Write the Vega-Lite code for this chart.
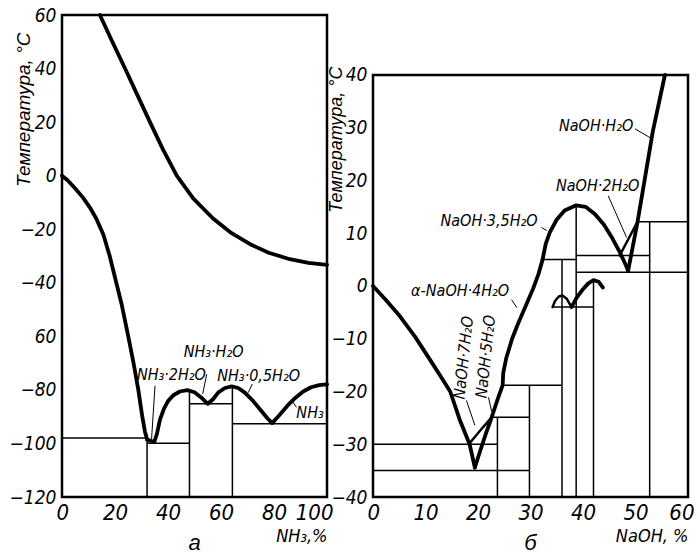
{
  "$schema": "https://vega.github.io/schema/vega-lite/v6.json",
  "background": "white",
  "padding": {"left": 7, "top": 4, "right": 0, "bottom": 0},
  "bounds": "flush",
  "spacing": 46,
  "config": {
    "view": {"stroke": "black", "strokeWidth": 2.5},
    "axis": {
      "grid": false, "domain": false, "ticks": false,
      "labelFont": "DejaVu Sans Condensed", "labelFontStyle": "italic", "labelColor": "black",
      "titleColor": "black", "titleFontWeight": "normal", "titleFontStyle": "italic", "titleFont": "DejaVu Sans Condensed"
    },
    "axisX": {"labelFontSize": 22, "labelPadding": 5, "labelFlush": true, "labelFlushOffset": 6, "titleFontSize": 18, "titleAnchor": "end", "titlePadding": 4},
    "axisY": {"labelFontSize": 19, "labelPadding": 6, "titleFont": "Liberation Sans", "titleAnchor": "end"}
  },
  "datasets": {
    "lCurve": [
      {"s": "u", "x": 14.3, "y": 60}, {"s": "u", "x": 19, "y": 50}, {"s": "u", "x": 23.8, "y": 40}, {"s": "u", "x": 28.5, "y": 30}, {"s": "u", "x": 33.2, "y": 20}, {"s": "u", "x": 38, "y": 10}, {"s": "u", "x": 43.3, "y": 0}, {"s": "u", "x": 49.5, "y": -8.5}, {"s": "u", "x": 57, "y": -16}, {"s": "u", "x": 64, "y": -21.5}, {"s": "u", "x": 71, "y": -25.6}, {"s": "u", "x": 78, "y": -28.8}, {"s": "u", "x": 86, "y": -31.2}, {"s": "u", "x": 93, "y": -32.6}, {"s": "u", "x": 100, "y": -33.3},
      {"s": "i", "x": 0, "y": 0}, {"s": "i", "x": 2, "y": -1.6}, {"s": "i", "x": 5, "y": -4.8}, {"s": "i", "x": 8, "y": -8.3}, {"s": "i", "x": 10.6, "y": -12}, {"s": "i", "x": 13, "y": -16.2}, {"s": "i", "x": 15.6, "y": -22}, {"s": "i", "x": 18, "y": -30}, {"s": "i", "x": 20, "y": -38}, {"s": "i", "x": 22.5, "y": -48}, {"s": "i", "x": 25, "y": -60}, {"s": "i", "x": 27, "y": -70}, {"s": "i", "x": 28.8, "y": -80}, {"s": "i", "x": 30.3, "y": -90}, {"s": "i", "x": 31.3, "y": -95.5}, {"s": "i", "x": 32.1, "y": -98.5},
      {"s": "h", "x": 32.1, "y": -98.5}, {"s": "h", "x": 34.8, "y": -99.5}, {"s": "h", "x": 35.8, "y": -96.5}, {"s": "h", "x": 37, "y": -91}, {"s": "h", "x": 38.5, "y": -87}, {"s": "h", "x": 40, "y": -84.2}, {"s": "h", "x": 42, "y": -82}, {"s": "h", "x": 44.5, "y": -80.6}, {"s": "h", "x": 47.3, "y": -80.1}, {"s": "h", "x": 50, "y": -80.9}, {"s": "h", "x": 52.5, "y": -82.8}, {"s": "h", "x": 55, "y": -85.2}, {"s": "h", "x": 57, "y": -83.5}, {"s": "h", "x": 59, "y": -80.9}, {"s": "h", "x": 61.5, "y": -79.3}, {"s": "h", "x": 64, "y": -78.7}, {"s": "h", "x": 66.5, "y": -79.3}, {"s": "h", "x": 69, "y": -81}, {"s": "h", "x": 72, "y": -84}, {"s": "h", "x": 75, "y": -87.6}, {"s": "h", "x": 77.5, "y": -90.6}, {"s": "h", "x": 79.3, "y": -92.4}, {"s": "h", "x": 82, "y": -89.5}, {"s": "h", "x": 85, "y": -86}, {"s": "h", "x": 88, "y": -83}, {"s": "h", "x": 91, "y": -80.6}, {"s": "h", "x": 94, "y": -79}, {"s": "h", "x": 97, "y": -78.2}, {"s": "h", "x": 100, "y": -77.9}
    ],
    "lSeg": [
      {"x": 0, "y": -98, "x2": 32.1, "y2": -98},
      {"x": 32.1, "y": -98.5, "x2": 32.1, "y2": -120},
      {"x": 32.1, "y": -99.9, "x2": 48.1, "y2": -99.9},
      {"x": 48.1, "y": -80.2, "x2": 48.1, "y2": -120},
      {"x": 48.1, "y": -85.2, "x2": 64.3, "y2": -85.2},
      {"x": 64.3, "y": -78.7, "x2": 64.3, "y2": -120},
      {"x": 64.3, "y": -92.6, "x2": 100, "y2": -92.6}
    ],
    "lLead": [
      {"x": 35.1, "y": -78.5, "x2": 33.8, "y2": -98.3},
      {"x": 54.6, "y": -74.2, "x2": 53.1, "y2": -81.5},
      {"x": 71.8, "y": -77.8, "x2": 70.3, "y2": -81},
      {"x": 86.7, "y": -84, "x2": 88.5, "y2": -86.5}
    ],
    "lLab": [
      {"x": 57.2, "y": -65.8, "t": "NH₃·H₂O"},
      {"x": 41.3, "y": -74.4, "t": "NH₃·2H₂O"},
      {"x": 74.2, "y": -74.8, "t": "NH₃·0,5H₂O"},
      {"x": 93.6, "y": -88.8, "t": "NH₃"}
    ],
    "lTickX": [{"x": 20}, {"x": 40}, {"x": 60}, {"x": 80}],
    "lTickY": [{"y": -100}, {"y": -80}, {"y": -60}, {"y": -40}, {"y": -20}, {"y": 0}, {"y": 20}, {"y": 40}],
    "rFrame": [{"x": 0, "x2": 60, "y": -40, "y2": 40}],
    "rTickX": [{"x": 10}, {"x": 20}, {"x": 30}, {"x": 40}, {"x": 50}],
    "rTickY": [{"y": -30}, {"y": -20}, {"y": -10}, {"y": 0}, {"y": 10}, {"y": 20}, {"y": 30}],
    "rThick": [
      {"s": "a", "x": 0, "y": 0}, {"s": "a", "x": 2.5, "y": -2.7}, {"s": "a", "x": 5.1, "y": -5.7}, {"s": "a", "x": 8, "y": -9.6}, {"s": "a", "x": 11, "y": -14.2}, {"s": "a", "x": 13, "y": -17.3}, {"s": "a", "x": 14.7, "y": -20}, {"s": "a", "x": 16.5, "y": -25.3}, {"s": "a", "x": 18.4, "y": -30}, {"s": "a", "x": 19.4, "y": -34.4},
      {"s": "c", "x": 19.4, "y": -34.4}, {"s": "c", "x": 20.5, "y": -31}, {"s": "c", "x": 21.5, "y": -28}, {"s": "c", "x": 22.6, "y": -24.9}, {"s": "c", "x": 23.7, "y": -21.6}, {"s": "c", "x": 24.7, "y": -18.8}, {"s": "c", "x": 24.8, "y": -16.5}, {"s": "c", "x": 25.4, "y": -13.6}, {"s": "c", "x": 26.5, "y": -10}, {"s": "c", "x": 27.6, "y": -7.2}, {"s": "c", "x": 29, "y": -4}, {"s": "c", "x": 30.5, "y": -0.5}, {"s": "c", "x": 31.5, "y": 2.2}, {"s": "c", "x": 32.3, "y": 5},
      {"s": "d", "x": 32.3, "y": 5}, {"s": "d", "x": 32.9, "y": 8}, {"s": "d", "x": 33.7, "y": 10.2}, {"s": "d", "x": 35, "y": 12.6}, {"s": "d", "x": 36.5, "y": 14.3}, {"s": "d", "x": 38.7, "y": 15.3}, {"s": "d", "x": 40.5, "y": 15}, {"s": "d", "x": 42.3, "y": 13.6}, {"s": "d", "x": 44, "y": 11.6}, {"s": "d", "x": 45.5, "y": 9.2}, {"s": "d", "x": 47, "y": 6.4}, {"s": "d", "x": 48, "y": 4.3}, {"s": "d", "x": 48.6, "y": 2.9},
      {"s": "f", "x": 48.6, "y": 2.9}, {"s": "f", "x": 50.4, "y": 12.2}, {"s": "f", "x": 53.3, "y": 29.3}, {"s": "f", "x": 55.6, "y": 40},
      {"s": "g2", "x": 37.8, "y": -4}, {"s": "g2", "x": 38.8, "y": -2.2}, {"s": "g2", "x": 40, "y": -0.6}, {"s": "g2", "x": 41, "y": 0.5}, {"s": "g2", "x": 42, "y": 1.1}, {"s": "g2", "x": 43, "y": 0.8}, {"s": "g2", "x": 43.8, "y": -0.3}
    ],
    "rMed": [
      {"s": "b", "x": 18.4, "y": -29.8}, {"s": "b", "x": 20.5, "y": -27.3}, {"s": "b", "x": 22.6, "y": -24.9},
      {"s": "e", "x": 47, "y": 5.8}, {"s": "e", "x": 48.7, "y": 9}, {"s": "e", "x": 50.4, "y": 12.2},
      {"s": "g1", "x": 34.2, "y": -4}, {"s": "g1", "x": 34.7, "y": -2.8}, {"s": "g1", "x": 35.4, "y": -2}, {"s": "g1", "x": 36.1, "y": -1.8}, {"s": "g1", "x": 36.9, "y": -2.4}, {"s": "g1", "x": 37.8, "y": -4}
    ],
    "rSeg": [
      {"x": 0, "y": -30, "x2": 23.7, "y2": -30},
      {"x": 0, "y": -35, "x2": 29.8, "y2": -35},
      {"x": 23.7, "y": -24.9, "x2": 23.7, "y2": -40},
      {"x": 22.6, "y": -24.9, "x2": 29.8, "y2": -24.9},
      {"x": 29.8, "y": -18.8, "x2": 29.8, "y2": -40},
      {"x": 24.7, "y": -18.8, "x2": 36, "y2": -18.8},
      {"x": 36, "y": 5, "x2": 36, "y2": -40},
      {"x": 32.3, "y": 5, "x2": 38.7, "y2": 5},
      {"x": 38.7, "y": 15.3, "x2": 38.7, "y2": -40},
      {"x": 34.2, "y": -4, "x2": 42, "y2": -4},
      {"x": 42, "y": 1.1, "x2": 42, "y2": -40},
      {"x": 38.7, "y": 5.8, "x2": 52.7, "y2": 5.8},
      {"x": 38.7, "y": 2.6, "x2": 60, "y2": 2.6},
      {"x": 52.7, "y": 12.2, "x2": 52.7, "y2": -40},
      {"x": 50.4, "y": 12.2, "x2": 60, "y2": 12.2}
    ],
    "rLead": [
      {"x": 49.9, "y": 29.8, "x2": 52.8, "y2": 28.1},
      {"x": 44.8, "y": 17.1, "x2": 48.3, "y2": 9.2},
      {"x": 32.1, "y": 11.1, "x2": 33.1, "y2": 10.5},
      {"x": 26.4, "y": -2.6, "x2": 27.4, "y2": -4.1},
      {"x": 17.8, "y": -21.7, "x2": 19.4, "y2": -26.4},
      {"x": 22, "y": -21.1, "x2": 22.6, "y2": -23.8}
    ],
    "rLab": [
      {"x": 42.5, "y": 30.3, "t": "NaOH·H₂O"},
      {"x": 42.8, "y": 19, "t": "NaOH·2H₂O"},
      {"x": 22.1, "y": 12.3, "t": "NaOH·3,5H₂O"},
      {"x": 16.6, "y": -1, "t": "α-NaOH·4H₂O"}
    ],
    "rLabRot": [
      {"x": 17.3, "y": -13.6, "t": "NaOH·7H₂O"},
      {"x": 21.5, "y": -13.4, "t": "NaOH·5H₂O"}
    ]
  },
  "hconcat": [
    {
      "width": 265,
      "height": 482,
      "title": {"text": "а", "orient": "bottom", "offset": -12, "fontSize": 22, "font": "Liberation Sans", "fontStyle": "italic", "fontWeight": "normal", "color": "black"},
      "encoding": {
        "x": {"field": "x", "type": "quantitative", "scale": {"domain": [0, 100], "nice": false, "zero": false},
              "axis": {"values": [0, 20, 40, 60, 80, 100], "title": "NH₃,%"}},
        "y": {"field": "y", "type": "quantitative", "scale": {"domain": [-120, 60], "nice": false, "zero": false},
              "axis": {"values": [-120, -100, -80, -60, -40, -20, 0, 20, 40, 60], "title": "Температура, °C", "titleFontSize": 19, "titleX": -29, "titleY": 17,
                       "labelExpr": "datum.value == -60 ? '60' : datum.label"}}
      },
      "layer": [
        {"data": {"name": "lSeg"}, "mark": {"type": "rule", "strokeWidth": 1.5, "color": "black"},
         "encoding": {"x2": {"field": "x2"}, "y2": {"field": "y2"}}},
        {"data": {"name": "lLead"}, "mark": {"type": "rule", "strokeWidth": 1, "color": "black"},
         "encoding": {"x2": {"field": "x2"}, "y2": {"field": "y2"}}},
        {"data": {"name": "lTickX"}, "mark": {"type": "tick", "orient": "vertical", "size": 7, "thickness": 1.6, "yOffset": -3.5, "color": "black", "opacity": 1},
         "encoding": {"y": {"datum": -120}}},
        {"data": {"name": "lTickY"}, "mark": {"type": "tick", "orient": "horizontal", "size": 7, "thickness": 1.6, "xOffset": 3.5, "color": "black", "opacity": 1},
         "encoding": {"x": {"datum": 0}}},
        {"data": {"name": "lCurve"}, "mark": {"type": "line", "strokeWidth": 3.8, "color": "black", "strokeCap": "round", "strokeJoin": "round"},
         "encoding": {"detail": {"field": "s"}}},
        {"data": {"name": "lLab"}, "mark": {"type": "text", "font": "DejaVu Sans Condensed", "fontStyle": "italic", "fontSize": 16, "color": "black", "align": "center", "baseline": "middle"},
         "encoding": {"text": {"field": "t"}}}
      ]
    },
    {
      "width": 315,
      "height": 482,
      "view": {"stroke": null},
      "title": {"text": "б", "orient": "bottom", "offset": -12, "fontSize": 22, "font": "Liberation Sans", "fontStyle": "italic", "fontWeight": "normal", "color": "black"},
      "encoding": {
        "x": {"field": "x", "type": "quantitative", "scale": {"domain": [0, 60], "nice": false, "zero": false},
              "axis": {"values": [0, 10, 20, 30, 40, 50, 60], "title": "NaOH, %"}},
        "y": {"field": "y", "type": "quantitative", "scale": {"domain": [-40, 51.37], "nice": false, "zero": false},
              "axis": {"values": [-40, -30, -20, -10, 0, 10, 20, 30, 40], "title": "Температура, °C", "titleFontSize": 18, "titleX": -28, "titleY": 51}}
      },
      "layer": [
        {"data": {"name": "rFrame"}, "mark": {"type": "rect", "fillOpacity": 0, "stroke": "black", "strokeWidth": 2.5},
         "encoding": {"x2": {"field": "x2"}, "y2": {"field": "y2"}}},
        {"data": {"name": "rSeg"}, "mark": {"type": "rule", "strokeWidth": 1.5, "color": "black"},
         "encoding": {"x2": {"field": "x2"}, "y2": {"field": "y2"}}},
        {"data": {"name": "rLead"}, "mark": {"type": "rule", "strokeWidth": 1, "color": "black"},
         "encoding": {"x2": {"field": "x2"}, "y2": {"field": "y2"}}},
        {"data": {"name": "rTickX"}, "mark": {"type": "tick", "orient": "vertical", "size": 7, "thickness": 1.6, "yOffset": -3.5, "color": "black", "opacity": 1},
         "encoding": {"y": {"datum": -40}}},
        {"data": {"name": "rTickY"}, "mark": {"type": "tick", "orient": "horizontal", "size": 7, "thickness": 1.6, "xOffset": 3.5, "color": "black", "opacity": 1},
         "encoding": {"x": {"datum": 0}}},
        {"data": {"name": "rMed"}, "mark": {"type": "line", "strokeWidth": 2.5, "color": "black", "strokeCap": "round", "strokeJoin": "round"},
         "encoding": {"detail": {"field": "s"}}},
        {"data": {"name": "rThick"}, "mark": {"type": "line", "strokeWidth": 3.8, "color": "black", "strokeCap": "round", "strokeJoin": "round"},
         "encoding": {"detail": {"field": "s"}}},
        {"data": {"name": "rLab"}, "mark": {"type": "text", "font": "DejaVu Sans Condensed", "fontStyle": "italic", "fontSize": 16, "color": "black", "align": "center", "baseline": "middle"},
         "encoding": {"text": {"field": "t"}}},
        {"data": {"name": "rLabRot"}, "mark": {"type": "text", "font": "DejaVu Sans Condensed", "fontStyle": "italic", "fontSize": 16, "color": "black", "align": "center", "baseline": "middle", "angle": -84},
         "encoding": {"text": {"field": "t"}}}
      ]
    }
  ]
}
